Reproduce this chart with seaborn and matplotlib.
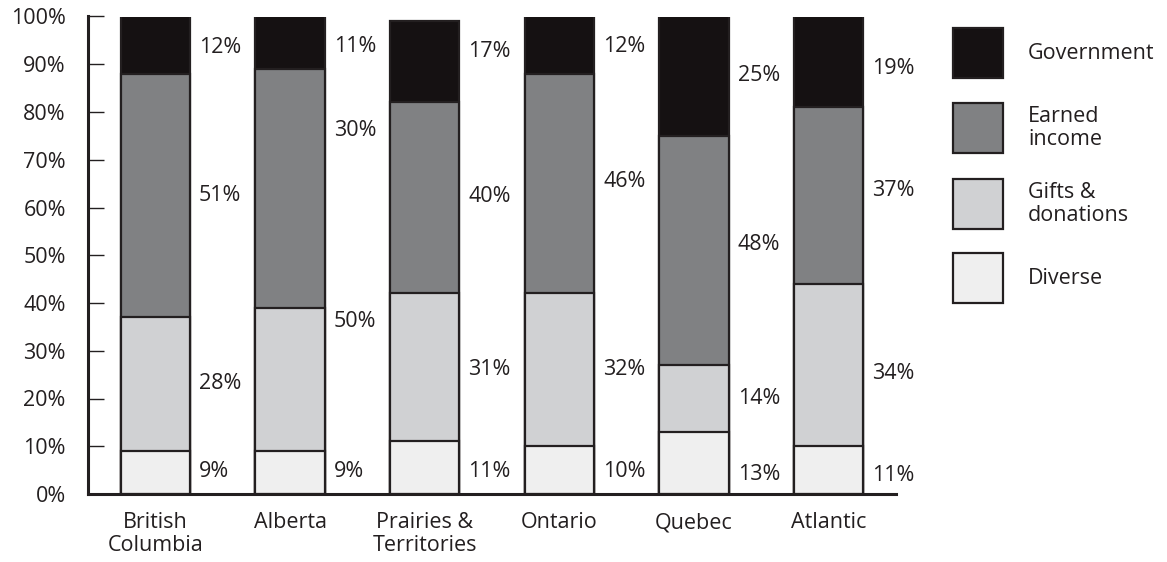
import matplotlib
matplotlib.use("Agg")
import matplotlib.pyplot as plt
from matplotlib.patches import Rectangle
import seaborn as sns
import pandas as pd
import numpy as np

# ---------------- data ----------------
regions = ["British\nColumbia", "Alberta", "Prairies &\nTerritories", "Ontario", "Quebec", "Atlantic"]
series = ["Diverse", "Gifts &\ndonations", "Earned\nincome", "Government"]

diverse = [9, 9, 11, 10, 13, 10]
gifts = [28, 30, 31, 32, 14, 34]
earned = [51, 50, 40, 46, 48, 37]
government = [12, 11, 17, 12, 25, 19]

diverse_labels = ["9%", "9%", "11%", "10%", "13%", "11%"]
gifts_labels = ["28%", "50%", "31%", "32%", "14%", "34%"]
earned_labels = ["51%", "30%", "40%", "46%", "48%", "37%"]
government_labels = ["12%", "11%", "17%", "12%", "25%", "19%"]

# label anchor heights (in % units)
diverse_label_y = [4.7, 4.7, 4.7, 4.7, 4.0, 3.8]
gifts_label_y = [23.2, 36.1, 26.0, 26.0, 20.0, 25.3]
earned_label_y = [62.6, 76.2, 62.3, 65.4, 52.2, 63.5]
government_label_y = [93.5, 93.7, 92.6, 93.7, 87.7, 89.2]

yticks = [0, 10, 20, 30, 40, 50, 60, 70, 80, 90, 100]
ytick_labels = [f"{v}%" for v in yticks]

# ---------------- style ----------------
colors = {"Diverse": "#efefef", "Gifts &\ndonations": "#d0d1d3",
          "Earned\nincome": "#808183", "Government": "#151112"}
edge = "#231f20"

sns.set_style("ticks")
plt.rcParams["font.family"] = ["Open Sans", "DejaVu Sans"]
FS = 15.5

W, H = 1167, 562
fig = plt.figure(figsize=(W / 100, H / 100), dpi=100)
ax = fig.add_axes([88 / W, 1 - 494 / H, (896 - 88) / W, (494 - 16.5) / H])

df = pd.DataFrame({"region": regions, "Diverse": diverse, "Gifts &\ndonations": gifts,
                   "Earned\nincome": earned, "Government": government})
cum = df[series].cumsum(axis=1)

# draw cumulative totals from the top down so segments stack
for s in reversed(series):
    sns.barplot(x=df["region"], y=cum[s], order=regions, color=colors[s],
                width=0.513, edgecolor=edge, linewidth=1.6, saturation=1, ax=ax)

label_sets = [(diverse_labels, diverse_label_y), (gifts_labels, gifts_label_y),
              (earned_labels, earned_label_y), (government_labels, government_label_y)]
for labs, ys in label_sets:
    for i, (t, yv) in enumerate(zip(labs, ys)):
        ax.text(i + 0.325, yv, t, ha="left", va="center", fontsize=FS, color="#231f20")

ax.set_xlim(-0.5, 5.5)
ax.set_ylim(0, 100)
ax.set_yticks(yticks)
ax.set_yticklabels(ytick_labels, fontsize=FS, color="#231f20")
ax.tick_params(axis="y", direction="in", length=11.5, width=1.0, color="#231f20", pad=16)
ax.tick_params(axis="x", length=0, pad=13, labelsize=FS, labelcolor="#231f20")
for lab in ax.get_xticklabels():
    lab.set_linespacing(1.1)
ax.set_xlabel("")
ax.set_ylabel("")
sns.despine(ax=ax)
for sp in ["left", "bottom"]:
    ax.spines[sp].set_linewidth(2.2)
    ax.spines[sp].set_color(edge)

# ---------------- legend (manual) ----------------
legend_order = ["Government", "Earned\nincome", "Gifts &\ndonations", "Diverse"]
box_tops = [28.3, 103, 179, 253]
for s, top in zip(legend_order, box_tops):
    fig.add_artist(Rectangle((953 / W, 1 - (top + 50) / H), 50 / W, 50 / H,
                             transform=fig.transFigure, facecolor=colors[s],
                             edgecolor=edge, linewidth=1.6))
    fig.text(1028 / W, 1 - (top + 25) / H, s, ha="left", va="center",
             fontsize=FS, color="#231f20", linespacing=1.1)

fig.savefig("out.png", dpi=100)
